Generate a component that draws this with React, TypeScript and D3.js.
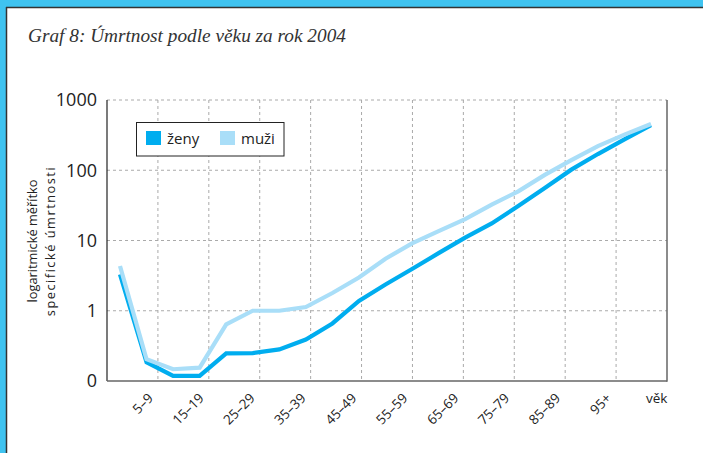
import React from 'react';
import * as d3 from 'd3';

const ageGroups = ['0','1–4','5–9','10–14','15–19','20–24','25–29','30–34','35–39','40–44','45–49','50–54','55–59','60–64','65–69','70–74','75–79','80–84','85–89','90–94','95+'];
const zeny = [3.3, 0.185, 0.118, 0.118, 0.248, 0.25, 0.282, 0.39, 0.66, 1.38, 2.36, 3.93, 6.6, 11.0, 17.5, 31, 56, 102, 170, 275, 440];
const muzi = [4.34, 0.204, 0.147, 0.155, 0.64, 1.0, 1.0, 1.13, 1.79, 2.97, 5.5, 9.1, 13.6, 20.1, 32.5, 50, 86, 139, 221, 321, 455];
const xTickLabels = ['5–9','15–19','25–29','35–39','45–49','55–59','65–69','75–79','85–89','95+'];
const yTickValues = [0.1, 1, 10, 100, 1000];
const yTickLabels = ['0', '1', '10', '100', '1000'];
const seriesNames = ['ženy', 'muži'];
const colors = ['#00adef', '#a9def8'];

const W = 703, H = 453;
const L = 107, R = 667, T = 100, B = 381;
const FONT = "'Open Sans', sans-serif";

export default function App() {
  const y = d3.scaleLog().domain([0.1, 1000]).range([B, T]);
  const xGrid = d3.scaleLinear().domain([0, xTickLabels.length + 1]).range([L, R]);
  const xData = d3.scalePoint<string>().domain(ageGroups).range([120, 651]);
  const line = d3.line<number>()
    .x((_, i) => xData(ageGroups[i]) as number)
    .y(d => y(d))
    .curve(d3.curveLinear);
  const series = [zeny, muzi];

  return (
    <svg width={W} height={H} style={{ position: 'absolute', left: 0, top: 0, background: '#fff' }}>
      {/* frame */}
      <rect x={0} y={0} width={W} height={7} fill="#3fc3f0" />
      <rect x={0} y={0} width={6} height={H} fill="#3fc3f0" />
      <line x1={6} x2={W} y1={7.5} y2={7.5} stroke="#333" strokeWidth={1.5} />
      <line x1={6.5} x2={6.5} y1={7} y2={H} stroke="#333" strokeWidth={1.5} />

      <text x={28} y={42} fontFamily="'Liberation Serif', serif" fontStyle="italic" fontSize={19.3} fill="#333">
        Graf 8: Úmrtnost podle věku za rok 2004
      </text>

      {/* horizontal grid */}
      {yTickValues.slice(1).map(v => (
        <line key={'h' + v} x1={L} x2={R} y1={y(v)} y2={y(v)} stroke="#aaa" strokeWidth={1} strokeDasharray="3,3" />
      ))}
      {/* vertical grid */}
      {xTickLabels.map((_, i) => (
        <line key={'v' + i} x1={xGrid(i + 1)} x2={xGrid(i + 1)} y1={T} y2={B} stroke="#aaa" strokeWidth={1} strokeDasharray="3,3" />
      ))}
      {/* axes */}
      <line x1={L} x2={L} y1={T} y2={B} stroke="#222" strokeWidth={1.2} />
      <line x1={R} x2={R} y1={T} y2={B + 0.7} stroke="#666" strokeWidth={1.5} />
      <line x1={L} x2={R} y1={B} y2={B} stroke="#666" strokeWidth={1.5} />

      {/* y tick labels */}
      {yTickValues.map((v, i) => (
        <text key={'yt' + v} x={97} y={y(v)} dy="0.36em" textAnchor="end" fontFamily={FONT} fontSize={18} fill="#222">
          {yTickLabels[i]}
        </text>
      ))}
      {/* y axis title */}
      <g transform={`translate(37,241) rotate(-90)`}>
        <text x={0} y={0} textAnchor="middle" fontFamily={FONT} fontSize={12.8} fill="#222">logaritmické měřítko</text>
        <text x={0} y={18} textAnchor="middle" fontFamily={FONT} fontSize={12.8} letterSpacing={1.5} fill="#222">specifické úmrtnosti</text>
      </g>

      {/* x tick labels */}
      {xTickLabels.map((t, i) => (
        <text key={'xt' + t} transform={`translate(${xGrid(i + 1) - 4},399) rotate(-45)`} textAnchor="end" fontFamily={FONT} fontSize={13.5} fill="#222">
          {t}
        </text>
      ))}
      <text x={646} y={403} fontFamily={FONT} fontSize={13.5} fill="#222">věk</text>

      {/* lines */}
      {series.map((s, k) => (
        <path key={'s' + k} d={line(s) || ''} fill="none" stroke={colors[k]} strokeWidth={4.2} strokeLinejoin="miter" strokeLinecap="butt" />
      ))}

      {/* legend */}
      <rect x={136.5} y={122.5} width={147.5} height={33.5} fill="#fff" stroke="#222" strokeWidth={1} />
      {seriesNames.map((n, k) => (
        <g key={'lg' + n} transform={`translate(${146 + k * 74},131)`}>
          <rect x={0} y={0} width={15} height={14} fill={colors[k]} />
          <text x={21} y={12.5} fontFamily={FONT} fontSize={15} fill="#222">{n}</text>
        </g>
      ))}
    </svg>
  );
}
